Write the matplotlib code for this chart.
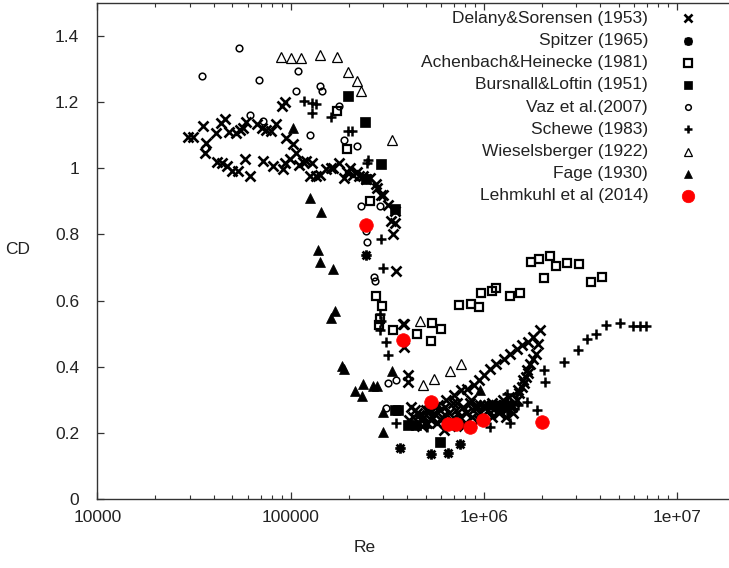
import matplotlib
matplotlib.use("Agg")
import matplotlib.pyplot as plt
from matplotlib.path import Path
from matplotlib.ticker import LogLocator, NullFormatter, FixedLocator, FixedFormatter

# ---------------- data ----------------
delany_re = [2.95e4, 3.14e4, 3.54e4, 3.65e4, 3.6e4, 4.1e4, 4.35e4, 4.57e4, 4.8e4, 5.2e4,
             5.5e4, 5.7e4, 5.9e4, 6.7e4, 7.1e4, 7.5e4, 7.95e4, 8.4e4,
             4.15e4, 4.4e4, 4.7e4, 4.95e4, 5.35e4, 5.8e4, 6.2e4,
             7.2e4, 8.1e4, 9.1e4, 9.35e4, 9.5e4, 1.03e5, 1.07e5, 9.9e4,
             1.2e5, 1.29e5, 1.26e5, 1.36e5, 9.0e4, 9.4e4, 1.16e5, 1.11e5,
             1.53e5, 1.62e5, 1.42e5, 1.65e5, 1.79e5, 1.95e5, 2.04e5, 2.2e5, 2.37e5, 2.56e5,
             1.88e5, 2.1e5, 2.27e5, 2.45e5, 2.76e5, 2.8e5, 2.92e5, 3.0e5, 3.2e5, 3.45e5,
             3.3e5, 3.4e5, 3.45e5, 3.5e5, 3.8e5, 3.85e5, 3.85e5, 4.05e5, 4.05e5,
             4.2e5, 4.5e5, 4.7e5, 4.9e5, 5.0e5, 5.3e5, 5.5e5, 5.7e5, 5.9e5, 6.1e5,
             6.3e5, 6.6e5, 6.9e5, 7.2e5, 7.5e5, 7.8e5, 8.1e5, 8.5e5, 8.8e5, 9.2e5,
             9.6e5, 1.0e6, 1.05e6, 1.1e6, 1.15e6, 1.2e6, 1.25e6, 1.3e6, 1.35e6, 1.4e6,
             4.1e5, 4.6e5, 5.2e5, 5.8e5, 6.4e5, 7.0e5, 7.6e5, 8.2e5, 8.9e5, 9.4e5,
             1.0e6, 1.08e6, 1.16e6, 1.27e6, 1.37e6, 1.48e6, 1.57e6, 1.7e6, 1.8e6, 1.95e6,
             1.48e6, 1.52e6, 1.57e6, 1.62e6, 1.65e6, 1.68e6, 1.74e6, 1.8e6, 1.9e6,
             9.1e5, 9.5e5, 1.0e6, 1.05e6, 1.1e6, 1.15e6, 1.2e6, 1.25e6, 1.3e6, 1.35e6, 1.4e6,
             4.3e5, 4.8e5, 5.4e5, 6.0e5, 6.7e5, 7.4e5, 8.0e5, 8.7e5, 9.4e5,
             4.4e5, 5.1e5, 5.6e5, 6.2e5, 6.8e5, 7.3e5, 7.9e5, 8.6e5,
             1.1e6, 1.2e6, 1.3e6, 1.42e6, 1.5e6, 1.6e6, 1.7e6, 1.85e6]
delany_cd = [1.094, 1.094, 1.129, 1.075, 1.047, 1.107, 1.137, 1.15, 1.11, 1.107,
             1.114, 1.122, 1.14, 1.134, 1.122, 1.114, 1.112, 1.134,
             1.02, 1.017, 1.007, 0.992, 0.992, 1.027, 0.977,
             1.022, 1.007, 0.997, 1.017, 1.09, 1.072, 1.047, 1.027,
             1.022, 1.017, 0.977, 0.977, 1.187, 1.2, 1.02, 1.01,
             0.997, 1.0, 0.98, 1.0, 1.017, 0.99, 1.0, 0.99, 0.977, 0.971,
             0.971, 0.98, 0.977, 0.966, 0.951, 0.94, 0.92, 0.92, 0.89, 0.87,
             0.84, 0.80, 0.835, 0.69, 0.53, 0.53, 0.46, 0.374, 0.354,
             0.28, 0.26, 0.24, 0.25, 0.27, 0.24, 0.26, 0.23, 0.27, 0.25,
             0.28, 0.26, 0.29, 0.27, 0.25, 0.28, 0.26, 0.29, 0.27, 0.28,
             0.26, 0.28, 0.27, 0.29, 0.28, 0.28, 0.3, 0.27, 0.31, 0.28,
             0.24, 0.255, 0.27, 0.285, 0.30, 0.315, 0.331, 0.334, 0.344, 0.359,
             0.374, 0.394, 0.41, 0.425, 0.44, 0.455, 0.465, 0.475, 0.49, 0.51,
             0.30, 0.32, 0.34, 0.35, 0.37, 0.39, 0.41, 0.425, 0.47,
             0.285, 0.285, 0.285, 0.285, 0.285, 0.285, 0.285, 0.285, 0.285, 0.285, 0.285,
             0.25, 0.22, 0.25, 0.24, 0.22, 0.24, 0.23, 0.25, 0.24,
             0.27, 0.23, 0.28, 0.21, 0.24, 0.29, 0.22, 0.3,
             0.25, 0.26, 0.25, 0.26, 0.33, 0.36, 0.38, 0.44]

spitzer_re = [2.45e5, 3.7e5, 5.3e5, 6.5e5, 7.5e5]
spitzer_cd = [0.739, 0.155, 0.138, 0.141, 0.166]

achenbach_re = [1.74e5, 1.95e5, 2.58e5, 2.75e5, 2.97e5, 2.9e5, 2.88e5, 3.4e5, 4.5e5, 5.4e5,
                6.0e5, 5.3e5, 7.4e5, 8.6e5, 9.4e5, 9.7e5, 1.1e6, 1.16e6, 1.37e6, 1.53e6,
                1.75e6, 1.93e6, 2.19e6, 2.35e6, 2.68e6, 3.1e6, 2.05e6, 3.6e6, 4.1e6]
achenbach_cd = [1.172, 1.057, 0.901, 0.613, 0.585, 0.545, 0.527, 0.51, 0.50, 0.532,
                0.515, 0.478, 0.587, 0.59, 0.582, 0.622, 0.63, 0.638, 0.613, 0.622,
                0.718, 0.726, 0.736, 0.705, 0.715, 0.712, 0.667, 0.655, 0.672]

bursnall_re = [1.98e5, 2.44e5, 2.93e5, 3.45e5, 2.45e5, 4.05e5, 4.45e5, 5.95e5, 3.45e5, 3.6e5]
bursnall_cd = [1.217, 1.14, 1.014, 0.876, 0.967, 0.224, 0.224, 0.172, 0.27, 0.27]

vaz_re = [5.4e4, 3.5e4, 6.9e4, 1.09e5, 1.42e5, 1.46e5, 1.07e5, 6.2e4, 7.2e4, 1.77e5,
          1.26e5, 1.9e5, 2.2e5, 3.6e4, 2.3e5, 2.9e5, 2.45e5, 2.48e5, 2.7e5, 2.72e5,
          3.2e5, 3.5e5, 3.1e5]
vaz_cd = [1.363, 1.278, 1.266, 1.293, 1.247, 1.233, 1.232, 1.162, 1.142, 1.187,
          1.1, 1.085, 1.067, 1.062, 0.886, 0.886, 0.81, 0.776, 0.672, 0.658,
          0.351, 0.359, 0.276]

schewe_re = [1.17e5, 1.29e5, 1.36e5, 1.29e5, 1.62e5, 1.98e5, 2.07e5, 2.5e5, 2.48e5, 2.95e5,
             3.0e5, 2.9e5, 2.95e5, 2.9e5, 3.1e5, 3.2e5, 3.5e5, 5.05e5,
             1.31e6, 1.48e6, 1.5e6, 1.67e6, 1.31e6, 1.37e6, 1.08e6, 1.88e6, 2.04e6, 2.08e6,
             2.6e6, 3.05e6, 3.4e6, 3.8e6, 4.3e6, 5.05e6, 5.9e6, 6.4e6, 6.9e6]
schewe_cd = [1.202, 1.197, 1.194, 1.167, 1.154, 1.112, 1.112, 1.024, 1.017, 0.786,
             0.699, 0.56, 0.54, 0.512, 0.475, 0.437, 0.229, 0.219,
             0.319, 0.319, 0.284, 0.294, 0.269, 0.229, 0.219, 0.269, 0.39, 0.354,
             0.414, 0.45, 0.485, 0.5, 0.525, 0.532, 0.522, 0.522, 0.522]

wiesel_re = [8.9e4, 1.01e5, 1.13e5, 1.42e5, 1.74e5, 1.97e5, 2.2e5, 2.3e5, 3.33e5, 4.65e5,
             4.85e5, 5.5e5, 6.7e5, 7.6e5]
wiesel_cd = [1.335, 1.333, 1.333, 1.343, 1.336, 1.291, 1.265, 1.232, 1.084, 0.538,
             0.346, 0.362, 0.387, 0.41]

fage_re = [1.03e5, 1.26e5, 1.43e5, 1.39e5, 1.42e5, 1.66e5, 1.7e5, 1.62e5, 1.85e5, 1.9e5,
           3.33e5, 2.15e5, 2.37e5, 2.35e5, 2.67e5, 2.8e5, 3.0e5, 3.0e5, 9.6e5]
fage_cd = [1.122, 0.909, 0.868, 0.753, 0.716, 0.695, 0.57, 0.547, 0.404, 0.394,
           0.387, 0.327, 0.347, 0.311, 0.341, 0.341, 0.204, 0.264, 0.33]

lehmkuhl_re = [2.45e5, 3.8e5, 5.3e5, 6.5e5, 7.2e5, 8.5e5, 9.9e5, 2.0e6]
lehmkuhl_cd = [0.829, 0.48, 0.294, 0.227, 0.227, 0.217, 0.241, 0.234]

labels = ["Delany&Sorensen (1953)", "Spitzer (1965)", "Achenbach&Heinecke (1981)",
          "Bursnall&Loftin (1951)", "Vaz et al.(2007)", "Schewe (1983)",
          "Wieselsberger (1922)", "Fage (1930)", "Lehmkuhl et al (2014)"]

y_ticks = [0, 0.2, 0.4, 0.6, 0.8, 1.0, 1.2, 1.4]
y_ticklabels = ["0", "0.2", "0.4", "0.6", "0.8", "1", "1.2", "1.4"]
x_ticks = [1e4, 1e5, 1e6, 1e7]
x_ticklabels = ["10000", "100000", "1e+06", "1e+07"]

# ---------------- styling ----------------
plt.rcParams['font.family'] = ['Liberation Sans', 'DejaVu Sans']
W, H = 729, 568
fig = plt.figure(figsize=(W / 100, H / 100), dpi=100)
ax = fig.add_axes([97.3 / W, 1 - 499.3 / H, 1 - 97.3 / W, (499.3 - 2.7) / H])

# asterisk marker (plus + cross), like gnuplot point type 3
star_path = Path([(-1, 0), (1, 0), (0, -1), (0, 1), (-0.75, -0.75), (0.75, 0.75),
                  (-0.75, 0.75), (0.75, -0.75)],
                 [Path.MOVETO, Path.LINETO] * 4)

styles = [
    dict(marker='x', ms=7.2, mew=1.9, mec='black', mfc='black'),
    dict(marker=star_path, ms=7.5, mew=2.0, mec='black', mfc='none'),
    dict(marker='s', ms=6.3, mew=1.6, mec='black', mfc='none'),
    dict(marker='s', ms=7.0, mew=0.5, mec='black', mfc='black'),
    dict(marker='o', ms=4.8, mew=1.1, mec='black', mfc='none'),
    dict(marker='+', ms=7.5, mew=1.8, mec='black', mfc='black'),
    dict(marker='^', ms=7.5, mew=0.9, mec='black', mfc='none'),
    dict(marker='^', ms=7.5, mew=0.5, mec='black', mfc='black'),
    dict(marker='o', ms=9.8, mew=0.5, mec='red', mfc='red'),
]
series = [(delany_re, delany_cd), (spitzer_re, spitzer_cd), (achenbach_re, achenbach_cd),
          (bursnall_re, bursnall_cd), (vaz_re, vaz_cd), (schewe_re, schewe_cd),
          (wiesel_re, wiesel_cd), (fage_re, fage_cd), (lehmkuhl_re, lehmkuhl_cd)]

for (xs, ys), st in zip(series, styles):
    ax.plot(xs, ys, linestyle='none', clip_on=False, **st)

ax.set_xscale('log')
ax.set_xlim(1e4, 10 ** (7 + (729 - 677.2) / 193.3))
ax.set_ylim(0, 1.5)

ax.xaxis.set_major_locator(FixedLocator(x_ticks))
ax.xaxis.set_major_formatter(FixedFormatter(x_ticklabels))
ax.xaxis.set_minor_locator(LogLocator(base=10, subs=range(2, 10)))
ax.xaxis.set_minor_formatter(NullFormatter())
ax.yaxis.set_major_locator(FixedLocator(y_ticks))
ax.yaxis.set_major_formatter(FixedFormatter(y_ticklabels))

txtc = '#222222'
ax.tick_params(axis='x', which='major', direction='in', length=5, width=0.9, top=True,
               labelsize=12.5, pad=8, colors='#333333', labelcolor=txtc)
ax.tick_params(axis='x', which='minor', direction='in', length=3, width=0.8, top=True,
               colors='#333333')
ax.tick_params(axis='y', which='major', direction='in', length=5, width=0.9, right=False,
               labelsize=12.5, pad=13, colors='#333333', labelcolor=txtc)
for s in ['left', 'bottom', 'top']:
    ax.spines[s].set_color('#333333')
    ax.spines[s].set_linewidth(1.0)
ax.spines['right'].set_visible(False)

fig.text(18 / W, 1 - 250 / H, "CD", ha='center', va='center', fontsize=12.5, color=txtc)
fig.text(365 / W, 1 - 548 / H, "Re", ha='center', va='center', fontsize=12.5, color=txtc)

# legend (manual, right-aligned text with marker on the right)
for i, (lab, st) in enumerate(zip(labels, styles)):
    yy = 1 - (18.3 + 22.2 * i) / H
    fig.text(648 / W, yy, lab, ha='right', va='center', fontsize=12.5, color=txtc)
    st2 = dict(st)
    if i == 8:
        st2['ms'] = 9.0
    else:
        st2['ms'] = st['ms'] * 0.85
    ax.plot([688 / W], [yy], transform=fig.transFigure, linestyle='none', clip_on=False, **st2)

fig.savefig("out.png", dpi=100)
